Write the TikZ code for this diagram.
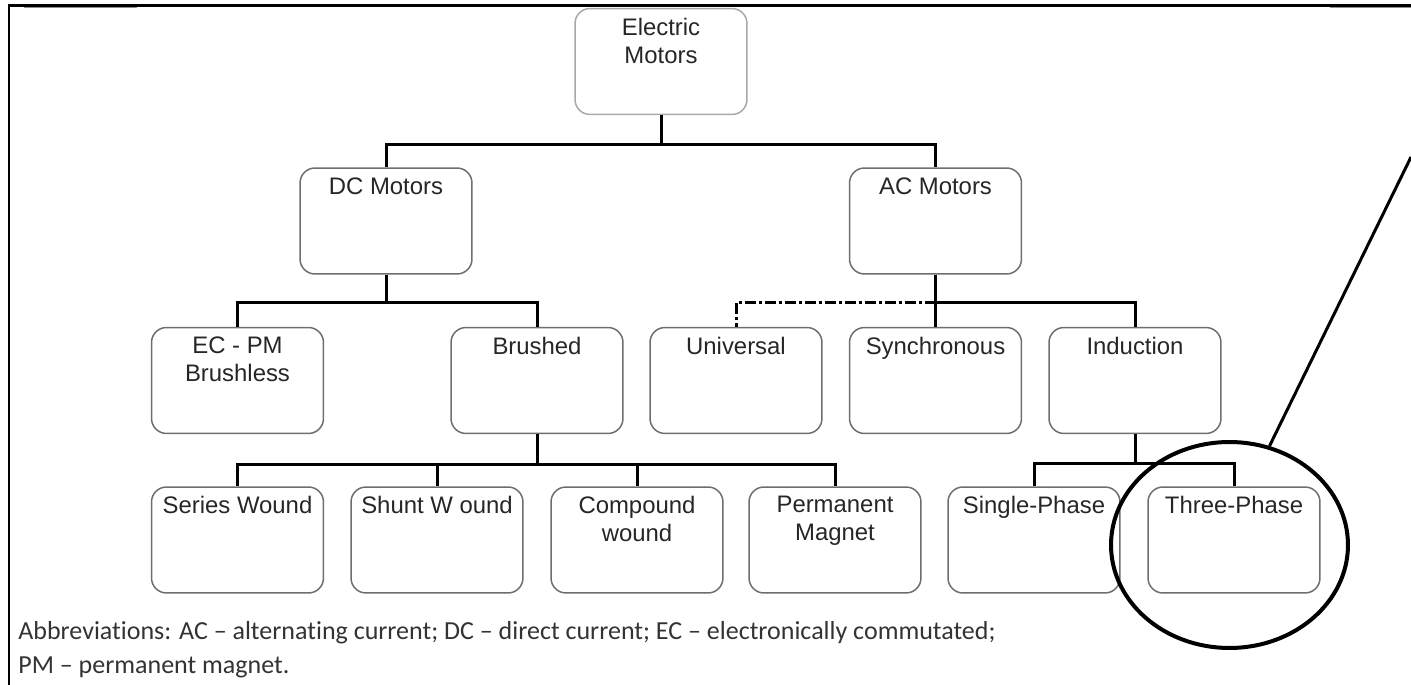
\documentclass[tikz,border=0pt]{standalone}
\usepackage{fontspec}
\setmainfont{Liberation Sans}
\newfontfamily\notefont[Ligatures={TeX,NoCommon}]{Carlito}
\usetikzlibrary{shapes.geometric}

\definecolor{boxgray}{HTML}{6E6E6E}
\definecolor{topgray}{HTML}{A8A8A8}
\definecolor{inkgray}{HTML}{262626}
\definecolor{linkblue}{HTML}{6A93C9}

\tikzset{
    motor/.style={draw=boxgray, line width=0.03cm, rounded corners=0.3cm,
        minimum width=3.44cm, minimum height=2.12cm, inner sep=0pt},
    boxtext/.style={anchor=north, yshift=-0.08cm, align=center, text=inkgray,
        font=\fontsize{13.6pt}{15.9pt}\selectfont},
    conn/.style={line width=0.06cm, black},
    dashconn/.style={line width=0.06cm, black,
        dash pattern=on 0.22cm off 0.06cm on 0.06cm off 0.06cm},
    ring/.style={draw, ellipse, line width=0.08cm, inner sep=0pt},
    note/.style={anchor=base west, inner sep=0pt, text=black!80,
        font=\notefont\fontsize{14.8pt}{18pt}\selectfont},
}

\begin{document}
\begin{tikzpicture}[x=0.02cm, y=-0.02cm]
        \useasboundingbox (0,0) rectangle (1411,685);

        %Rahmen
        \draw[line width=0.06cm] (9,685) -- (9,5.5) -- (1411,5.5);
        \draw[linkblue, line width=0.035cm] (24,7.5) -- (137,7.5);
        \draw[linkblue, line width=0.035cm] (1330,7.5) -- (1411,7.5);

        %Kaesten
        \node[motor, draw=topgray, label={[boxtext]north:{Electric\\Motors}}] (em) at (661,61.5) {};

        \node[motor, label={[boxtext]north:{DC Motors}}] (dc) at (386,221) {};
        \node[motor, label={[boxtext]north:{AC Motors}}] (ac) at (935.5,221) {};

        \node[motor, label={[boxtext]north:{EC - PM\\Brushless}}] (ecpm) at (237.5,380.5) {};
        \node[motor, label={[boxtext]north:{Brushed}}] (brushed) at (537,380.5) {};
        \node[motor, label={[boxtext]north:{Universal}}] (universal) at (736,380.5) {};
        \node[motor, label={[boxtext]north:{Synchronous}}] (synchron) at (935.5,380.5) {};
        \node[motor, label={[boxtext]north:{Induction}}] (induction) at (1135,380.5) {};

        \node[motor, label={[boxtext]north:{Series Wound}}] (series) at (237.5,540) {};
        \node[motor, label={[boxtext]north:{Shunt W ound}}] (shunt) at (437,540) {};
        \node[motor, label={[boxtext]north:{Compound\\wound}}] (compound) at (637,540) {};
        \node[motor, label={[boxtext]north:{Permanent\\Magnet}}] (pmagnet) at (835,540) {};
        \node[motor, label={[boxtext]north:{Single-Phase}}] (single) at (1034,540) {};
        \node[motor, label={[boxtext]north:{Three-Phase}}] (three) at (1234,540) {};

        %Verbindungen
        \draw[conn] (em.south) -- ++(0,29) -| (dc.north);
        \draw[conn] (em.south) -- ++(0,29) -| (ac.north);

        \draw[conn] (dc.south) -- ++(0,28) -| (ecpm.north);
        \draw[conn] (dc.south) -- ++(0,28) -| (brushed.north);

        \draw[dashconn] (ac.south) ++(0,28) -| (universal.north);
        \draw[conn] (ac.south) -- (synchron.north);
        \draw[conn] (ac.south) -- ++(0,28) -| (induction.north);

        \foreach \kid in {series, shunt, compound, pmagnet}
            \draw[conn] (brushed.south) -- ++(0,30) -| (\kid.north);

        \draw[conn] (induction.south) -- ++(0,29) -| (single.north);
        \draw[conn] (induction.south) -- ++(0,29) -| (three.north);

        %Markierung
        \node[ring, minimum width=4.74cm, minimum height=4.12cm] (focus) at (1229.5,545) {};
        \coordinate (edge) at (1411,157);
        \draw[line width=0.06cm] (focus.68) -- (edge);

        %Legende
        \node[note] (abbr) at (18,640) {Abbreviations: AC -- alternating current; DC -- direct current; EC -- electronically commutated;};
        \node[note] (abbrpm) at (18,674) {PM -- permanent magnet.};
    \end{tikzpicture}
\end{document}
